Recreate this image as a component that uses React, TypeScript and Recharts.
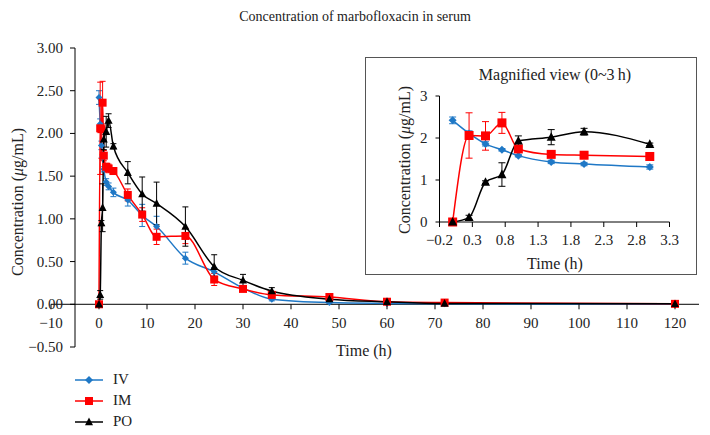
import React from 'react';
import { LineChart, Line, XAxis, YAxis, ReferenceLine, ErrorBar, Legend } from 'recharts';

// sampling times (h)
const times = [0, 0.25, 0.5, 0.75, 1, 1.5, 2, 3, 6, 9, 12, 18, 24, 30, 36, 48, 60, 72, 120];

// mean +/- sd, µg/mL
const ivMean = [2.42, 2.11, 1.86, 1.72, 1.58, 1.43, 1.38, 1.31, 1.22, 1.04, 0.91, 0.54, 0.38, 0.19, 0.06, 0.02, 0.01, 0.005, 0];
const ivSd = [0.08, 0.06, 0.05, 0.03, 0.03, 0.04, 0.04, 0.05, 0.07, 0.13, 0.12, 0.07, 0.05, 0.03, 0.02, 0.01, 0.005, 0, 0];
const imMean = [0, 2.06, 2.05, 2.36, 1.74, 1.61, 1.59, 1.56, 1.28, 1.05, 0.79, 0.8, 0.29, 0.18, 0.11, 0.085, 0.03, 0.02, 0.005];
const imSd = [0, 0.54, 0.34, 0.25, 0.06, 0.04, 0.05, 0.04, 0.07, 0.08, 0.09, 0.09, 0.07, 0.03, 0.03, 0.02, 0.01, 0.01, 0];
const poMean = [0, 0.11, 0.95, 1.13, 1.93, 2.02, 2.15, 1.85, 1.54, 1.29, 1.18, 0.91, 0.44, 0.28, 0.155, 0.06, 0.03, 0.01, 0.005];
const poSd = [0, 0.05, 0.03, 0.28, 0.12, 0.18, 0.08, 0.03, 0.13, 0.2, 0.25, 0.23, 0.14, 0.07, 0.04, 0.02, 0.01, 0, 0];

const mainXTicks = [-10, 0, 10, 20, 30, 40, 50, 60, 70, 80, 90, 100, 110, 120];
const mainYTicks = [-0.5, 0, 0.5, 1, 1.5, 2, 2.5, 3];
const insetXTicks = [-0.2, 0.3, 0.8, 1.3, 1.8, 2.3, 2.8, 3.3];
const insetYTicks = [0, 1, 2, 3];
const INSET_POINTS = 8; // 0..3 h

const BLUE = '#1f78c6';
const RED = '#ff0000';
const BLACK = '#000000';
const FONT = '"Liberation Serif", "Times New Roman", serif';

const data = times.map((t, i) => ({
  t,
  iv: ivMean[i], ivErr: ivSd[i],
  im: imMean[i], imErr: imSd[i],
  po: poMean[i], poErr: poSd[i],
}));
const insetData = data.slice(0, INSET_POINTS);

// main plot geometry
const W = 710;
const H = 435;
const PL = 51, PR = 699, PT = 48, PB = 347;
const X_MIN = -10, X_MAX = 125, Y_MIN = -0.5, Y_MAX = 3;
const ZERO_Y = PT + ((PB - PT) * Y_MAX) / (Y_MAX - Y_MIN);
const AXIS_X = PL + ((PR - PL) * (-5 - X_MIN)) / (X_MAX - X_MIN);

const minus = (s: string) => s.replace('-', '\u2212');

const shapeFor = (kind: string, cx: number, cy: number, s: number, fill: string, key?: any) => {
  if (kind === 'diamond')
    return <path key={key} d={`M${cx},${cy - s}L${cx + s},${cy}L${cx},${cy + s}L${cx - s},${cy}Z`} fill={fill} />;
  if (kind === 'square')
    return <rect key={key} x={cx - s} y={cy - s} width={s * 2} height={s * 2} fill={fill} />;
  return <path key={key} d={`M${cx},${cy - s * 1.1}L${cx + s},${cy + s * 0.8}L${cx - s},${cy + s * 0.8}Z`} fill={fill} />;
};

const makeDot = (kind: string, s: number, fill: string) => (p: any) => {
  if (p.cx == null || p.cy == null) return <g key={p.index} />;
  return shapeFor(kind, p.cx, p.cy, s, fill, p.index);
};

const MainXTick = (props: any) => {
  const { x, payload } = props;
  return (
    <g>
      <line x1={x} x2={x} y1={ZERO_Y} y2={ZERO_Y + 5} stroke="#000" />
      <text x={x} y={ZERO_Y + 19} textAnchor="middle" dominantBaseline="central"
        fontFamily={FONT} fontSize={15} fill="#222">{minus(String(payload.value))}</text>
    </g>
  );
};

const MainYTick = (props: any) => {
  const { y, payload } = props;
  return (
    <g>
      <line x1={AXIS_X - 5} x2={AXIS_X} y1={y} y2={y} stroke="#000" />
      <text x={AXIS_X - 12} y={y} textAnchor="end" dominantBaseline="central"
        fontFamily={FONT} fontSize={15} fill="#222">{minus(payload.value.toFixed(2))}</text>
    </g>
  );
};

const legendRows = [
  { name: 'IV', color: BLUE, kind: 'diamond', s: 4 },
  { name: 'IM', color: RED, kind: 'square', s: 4 },
  { name: 'PO', color: BLACK, kind: 'triangle', s: 4 },
];

const LegendBox = () => (
  <div style={{ fontFamily: FONT, fontSize: 15, color: '#222' }}>
    {legendRows.map((r) => (
      <div key={r.name} style={{ display: 'flex', alignItems: 'center', height: 21 }}>
        <svg width={41} height={12}>
          <line x1={3} x2={31} y1={6} y2={6} stroke={r.color} strokeWidth={1.5} />
          {shapeFor(r.kind, 17, 6, r.s, r.color)}
        </svg>
        <span style={{ lineHeight: 1 }}>{r.name}</span>
      </div>
    ))}
  </div>
);

const Txt = ({ x, y, size, rotate, children }: any) => (
  <div style={{
    position: 'absolute', left: x, top: y, fontFamily: FONT, fontSize: size, color: '#222',
    lineHeight: 1, whiteSpace: 'nowrap',
    transform: `translate(-50%, -50%)${rotate ? ' rotate(-90deg)' : ''}`,
  }}>{children}</div>
);

export default function App() {
  return (
    <div style={{ position: 'absolute', left: 0, top: 0, width: W, height: H, background: '#fff' }}>
      <LineChart width={W} height={H} data={data}
        margin={{ top: PT, right: W - PR, bottom: H - PB - 30, left: PL - 40 }}>
        <XAxis dataKey="t" type="number" domain={[X_MIN, X_MAX]} ticks={mainXTicks}
          axisLine={false} tickLine={false} tick={<MainXTick />} height={30} interval={0} />
        <YAxis type="number" domain={[Y_MIN, Y_MAX]} ticks={mainYTicks}
          axisLine={false} tickLine={false} tick={<MainYTick />} width={40} interval={0} />
        <ReferenceLine y={0} stroke="#000" strokeWidth={1} />
        <ReferenceLine x={-5} stroke="#000" strokeWidth={1} />
        <Line type="monotone" dataKey="iv" name="IV" stroke={BLUE} strokeWidth={1.5}
          dot={makeDot('diamond', 3.5, BLUE)} isAnimationActive={false}>
          <ErrorBar dataKey="ivErr" width={3} stroke={BLUE} strokeWidth={1} />
        </Line>
        <Line type="monotone" dataKey="im" name="IM" stroke={RED} strokeWidth={1.5}
          dot={makeDot('square', 4, RED)} isAnimationActive={false}>
          <ErrorBar dataKey="imErr" width={3} stroke={RED} strokeWidth={1} />
        </Line>
        <Line type="monotone" dataKey="po" name="PO" stroke={BLACK} strokeWidth={1.5}
          dot={makeDot('triangle', 4, BLACK)} isAnimationActive={false}>
          <ErrorBar dataKey="poErr" width={3} stroke={BLACK} strokeWidth={1} />
        </Line>
        <Legend layout="horizontal" verticalAlign="middle" align="center" content={<LegendBox />}
          wrapperStyle={{ left: 72, top: 369, width: 120, height: 63 }} />
      </LineChart>

      <div style={{
        position: 'absolute', left: 365, top: 57, width: 332, height: 218,
        border: '1.5px solid #555', boxSizing: 'border-box', background: '#fff',
      }}>
        <LineChart width={329} height={215} data={insetData}
          margin={{ top: 38, right: 25.5, bottom: 26, left: 43.5 }}>
          <XAxis dataKey="t" type="number" domain={[-0.2, 3.3]} ticks={insetXTicks} interval={0}
            height={25} tickSize={5} tickMargin={7} stroke="#000"
            tick={{ fontFamily: FONT, fontSize: 15, fill: '#222' }}
            tickFormatter={(v: number) => minus(v.toFixed(1))} />
          <YAxis type="number" domain={[0, 3]} ticks={insetYTicks} interval={0}
            width={30} tickSize={4} tickMargin={8} stroke="#000"
            tick={{ fontFamily: FONT, fontSize: 15, fill: '#222' }} />
          <Line type="monotone" dataKey="iv" stroke={BLUE} strokeWidth={1.5}
            dot={makeDot('diamond', 4, BLUE)} isAnimationActive={false}>
            <ErrorBar dataKey="ivErr" width={3.5} stroke={BLUE} strokeWidth={1} />
          </Line>
          <Line type="monotone" dataKey="im" stroke={RED} strokeWidth={1.5}
            dot={makeDot('square', 4.5, RED)} isAnimationActive={false}>
            <ErrorBar dataKey="imErr" width={3.5} stroke={RED} strokeWidth={1} />
          </Line>
          <Line type="monotone" dataKey="po" stroke={BLACK} strokeWidth={1.5}
            dot={makeDot('triangle', 4.5, BLACK)} isAnimationActive={false}>
            <ErrorBar dataKey="poErr" width={3.5} stroke={BLACK} strokeWidth={1} />
          </Line>
        </LineChart>
      </div>

      <Txt x={355} y={17} size={14}>Concentration of marbofloxacin in serum</Txt>
      <Txt x={18} y={202} size={16} rotate>
        Concentration (<span style={{ fontStyle: 'italic' }}>μ</span>g/mL)
      </Txt>
      <Txt x={364} y={351} size={16}>Time (h)</Txt>
      <Txt x={555} y={75} size={16}>Magnified view (0~3{'\u2009'}h)</Txt>
      <Txt x={555} y={264} size={16}>Time (h)</Txt>
      <Txt x={405} y={160} size={16} rotate>
        Concentration (<span style={{ fontStyle: 'italic' }}>μ</span>g/mL)
      </Txt>
    </div>
  );
}
